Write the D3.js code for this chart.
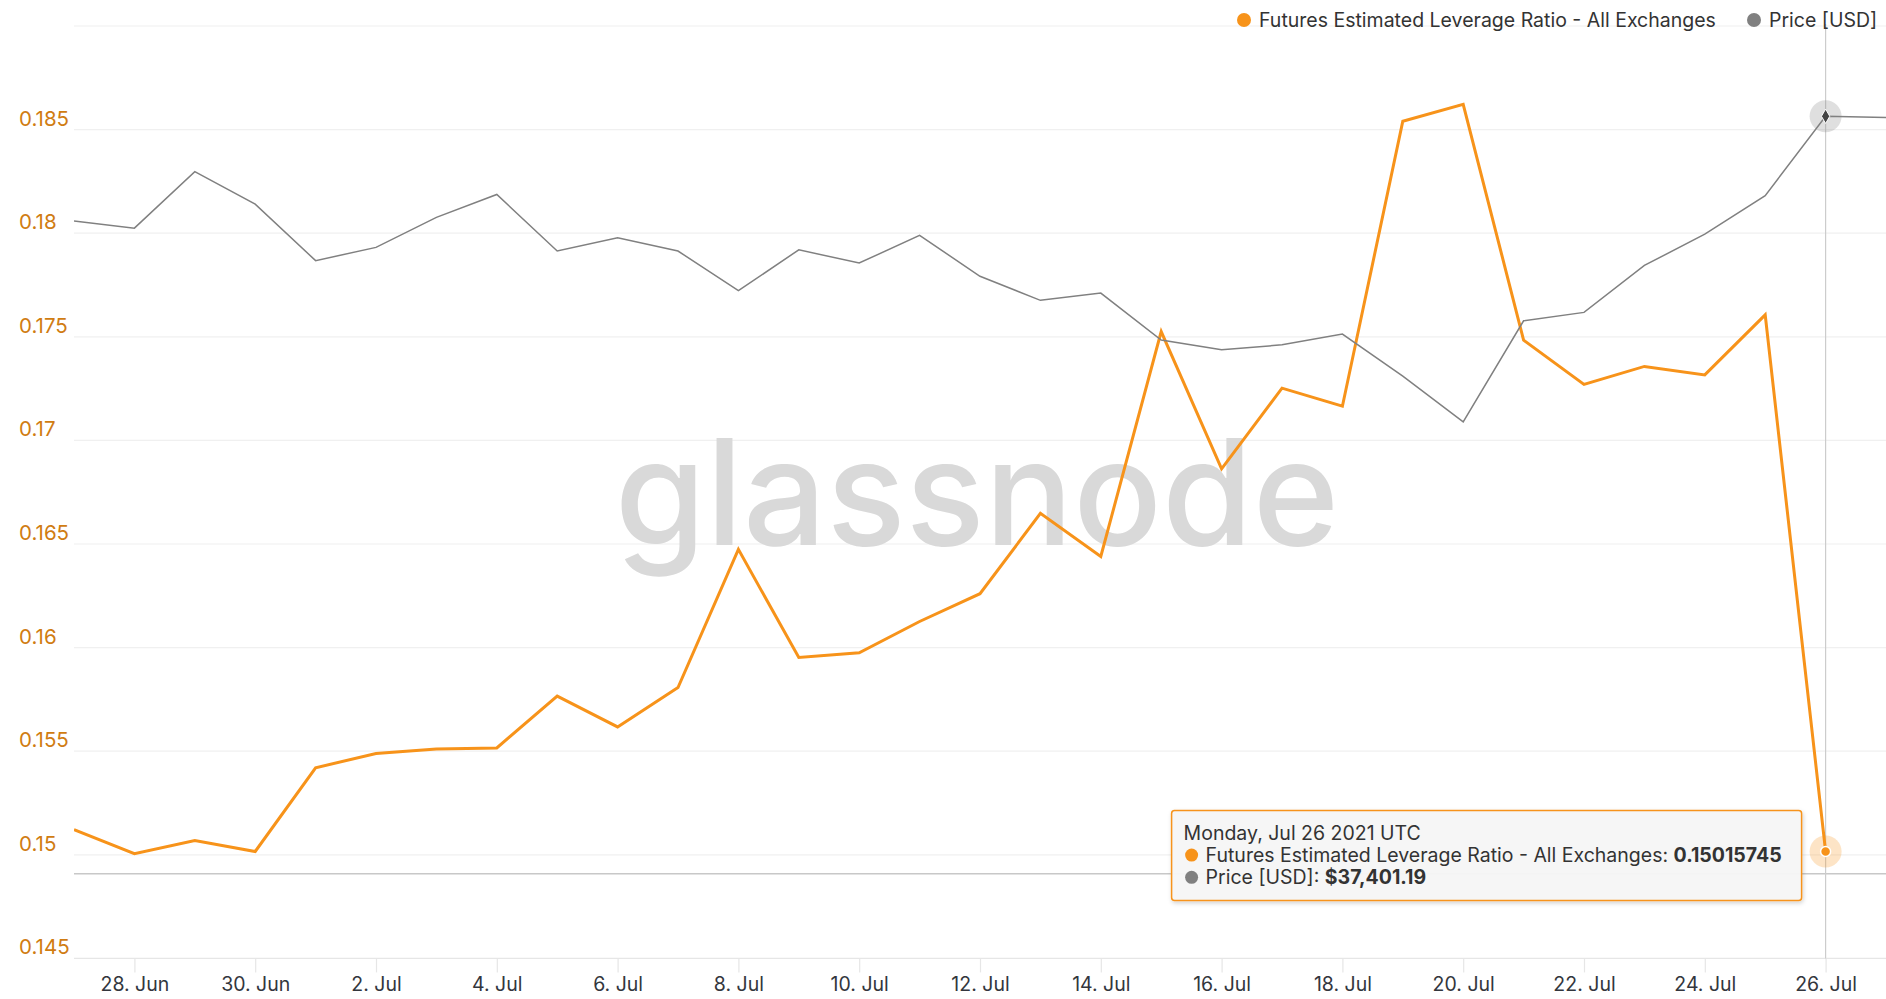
<!DOCTYPE html>
<html><head><meta charset="utf-8">
<script src="https://cdn.jsdelivr.net/npm/d3@7"></script>
<style>
body{margin:0;background:#fff}
svg{display:block}
text{font-family:Inter,"Noto Sans",sans-serif}
</style>
</head><body>
<svg id="chart" width="1886" height="999"></svg>
<script>
// ---------- data ----------
const dates = ["2021-06-27","2021-06-28","2021-06-29","2021-06-30","2021-07-01","2021-07-02","2021-07-03",
  "2021-07-04","2021-07-05","2021-07-06","2021-07-07","2021-07-08","2021-07-09","2021-07-10","2021-07-11",
  "2021-07-12","2021-07-13","2021-07-14","2021-07-15","2021-07-16","2021-07-17","2021-07-18","2021-07-19",
  "2021-07-20","2021-07-21","2021-07-22","2021-07-23","2021-07-24","2021-07-25","2021-07-26","2021-07-27"];
const leverage = [0.15121,0.15005,0.15069,0.15016,0.15420,0.15489,0.15511,0.15516,0.15766,0.15617,
  0.15807,0.16474,0.15952,0.15975,0.16126,0.16260,0.16648,0.16440,0.17525,0.16863,0.17252,0.17165,
  0.18540,0.18622,0.17484,0.17270,0.17357,0.17316,0.17606,0.15015745];
const price = [34791,34611,36021,35211,33801,34131,34881,35451,34041,34371,34041,33051,34071,33741,
  34431,33411,32811,32991,31821,31581,31701,31971,30921,29781,32301,32511,33681,34461,35421,37401.19,37371];
const leverageGrid = [0.145,0.15,0.155,0.16,0.165,0.17,0.175,0.18,0.185,0.19];
const leverageLabels = [0.145,0.15,0.155,0.16,0.165,0.17,0.175,0.18,0.185];
const dateTicks = ["2021-06-28","2021-06-30","2021-07-02","2021-07-04","2021-07-06","2021-07-08","2021-07-10",
  "2021-07-12","2021-07-14","2021-07-16","2021-07-18","2021-07-20","2021-07-22","2021-07-24","2021-07-26"];
const seriesNames = ["Futures Estimated Leverage Ratio - All Exchanges","Price [USD]"];
const hoverDate = "2021-07-26";
const hoverTitle = "Monday, Jul 26 2021 UTC";
const referenceLevel = 0.14908;

// ---------- setup ----------
const W = 1886, H = 999;
const plot = {left:74, right:1886, top:26, bottom:958.4};
const orange = "#f7931a", grey = "#808080";
const parse = d3.utcParse("%Y-%m-%d");
const dd = dates.map(parse);
const FS = 19.5;

const x = d3.scaleUtc().domain([parse("2021-06-27"), parse("2021-07-27")]).range([plot.left, plot.right]);
const yL = d3.scaleLinear().domain([0.145,0.19]).range([plot.bottom, plot.top]);
const yP = d3.scaleLinear().domain([16400,39690]).range([plot.bottom, plot.top-1.5]);

const svg = d3.select("#chart");
svg.append("rect").attr("width",W).attr("height",H).attr("fill","#fff");

const defs = svg.append("defs");
defs.append("clipPath").attr("id","clip").append("rect")
  .attr("x",plot.left).attr("y",0).attr("width",plot.right-plot.left).attr("height",plot.bottom);
const sh = defs.append("filter").attr("id","shadow").attr("x","-10%").attr("y","-20%").attr("width","120%").attr("height","150%");
sh.append("feDropShadow").attr("dx",1).attr("dy",2).attr("stdDeviation",2).attr("flood-color","#000").attr("flood-opacity",0.18);

// grid
svg.append("g").selectAll("line").data(leverageGrid).join("line")
  .attr("x1",plot.left).attr("x2",plot.right)
  .attr("y1",d=>yL(d)).attr("y2",d=>yL(d))
  .attr("stroke",(d,i)=>i===0?"#e6e6e6":"#f0f0f0").attr("stroke-width",1.2);

// y labels
svg.append("g").selectAll("text").data(leverageLabels).join("text")
  .attr("x",19).attr("y",d=>yL(d)-4)
  .attr("fill","#d07c12").attr("font-size",20.5)
  .text(d=>String(d));

// x axis ticks & labels
const xAxis = d3.axisBottom(x).tickValues(dateTicks.map(parse)).tickFormat(d3.utcFormat("%-d. %b")).tickSize(14).tickPadding(5);
const gx = svg.append("g").attr("transform",`translate(0,${plot.bottom})`).call(xAxis);
gx.select(".domain").remove();
gx.selectAll(".tick line").attr("stroke","#e6e6e6").attr("stroke-width",1.2);
gx.selectAll(".tick text").attr("fill","#33363d").attr("font-size",FS).attr("font-family","Inter,sans-serif");

// watermark
svg.append("text").attr("x",977).attr("y",545).attr("text-anchor","middle")
  .attr("font-size",147).attr("fill","#d9d9d9").attr("font-weight",450).text("glassnode");

// reference line
svg.append("line").attr("x1",plot.left).attr("x2",plot.right)
  .attr("y1",yL(referenceLevel)).attr("y2",yL(referenceLevel))
  .attr("stroke","#c8c8c8").attr("stroke-width",1.5);

// crosshair
const hx = x(parse(hoverDate));
svg.append("line").attr("x1",hx).attr("x2",hx).attr("y1",plot.top-2).attr("y2",plot.bottom)
  .attr("stroke","#cccccc").attr("stroke-width",1.2);

// lines
const gLines = svg.append("g").attr("clip-path","url(#clip)");
gLines.append("path").datum(leverage)
  .attr("d",d3.line().x((d,i)=>x(dd[i])).y(d=>yL(d)))
  .attr("fill","none").attr("stroke",orange).attr("stroke-width",3).attr("stroke-linejoin","miter");
gLines.append("path").datum(price)
  .attr("d",d3.line().x((d,i)=>x(dd[i])).y(d=>yP(d)))
  .attr("fill","none").attr("stroke",grey).attr("stroke-width",1.5);

// hover markers
const hi = dates.indexOf(hoverDate);
const oy = yL(leverage[hi]), py = yP(price[hi]);
svg.append("circle").attr("cx",hx).attr("cy",oy).attr("r",16).attr("fill",orange).attr("fill-opacity",0.25);
svg.append("circle").attr("cx",hx).attr("cy",oy).attr("r",5).attr("fill",orange).attr("stroke","#fff").attr("stroke-width",1.5);
svg.append("circle").attr("cx",hx).attr("cy",py).attr("r",16).attr("fill",grey).attr("fill-opacity",0.25);
svg.append("path").attr("d",d3.symbol(d3.symbolDiamond,60)()).attr("transform",`translate(${hx},${py})`)
  .attr("fill","#444").attr("stroke","#fff").attr("stroke-width",1);

// legend
const leg = svg.append("g");
const legItems = [{name:seriesNames[0],color:orange,cx:1244,tx:1259},{name:seriesNames[1],color:grey,cx:1754,tx:1769}];
legItems.forEach(it=>{
  leg.append("circle").attr("cx",it.cx).attr("cy",20).attr("r",7).attr("fill",it.color);
  leg.append("text").attr("x",it.tx).attr("y",27).attr("font-size",FS).attr("fill","#333").text(it.name);
});

// tooltip
const tw = 630, th = 90;
const tl = hx - 24 - tw, tt = oy - 41;
const tip = svg.append("g");
tip.append("rect").attr("x",tl).attr("y",tt).attr("width",tw).attr("height",th).attr("rx",3)
  .attr("fill","#f7f7f7").attr("fill-opacity",0.95).attr("stroke",orange).attr("stroke-width",1.5).attr("filter","url(#shadow)");
tip.append("text").attr("x",tl+12).attr("y",tt+29).attr("font-size",FS).attr("fill","#333").text(hoverTitle);
const rows = [
  {color:orange,label:seriesNames[0]+": ",val:leverage[hi].toFixed(8)},
  {color:grey,label:seriesNames[1]+": ",val:"$"+d3.format(",.2f")(price[hi])}
];
rows.forEach((r,i)=>{
  const by = tt+51+i*22.3;
  tip.append("circle").attr("cx",tl+20).attr("cy",by-6.5).attr("r",6.5).attr("fill",r.color);
  const t = tip.append("text").attr("x",tl+34).attr("y",by).attr("font-size",FS).attr("fill","#333");
  t.append("tspan").text(r.label);
  t.append("tspan").attr("font-weight",700).text(r.val);
});
</script>
</body></html>
